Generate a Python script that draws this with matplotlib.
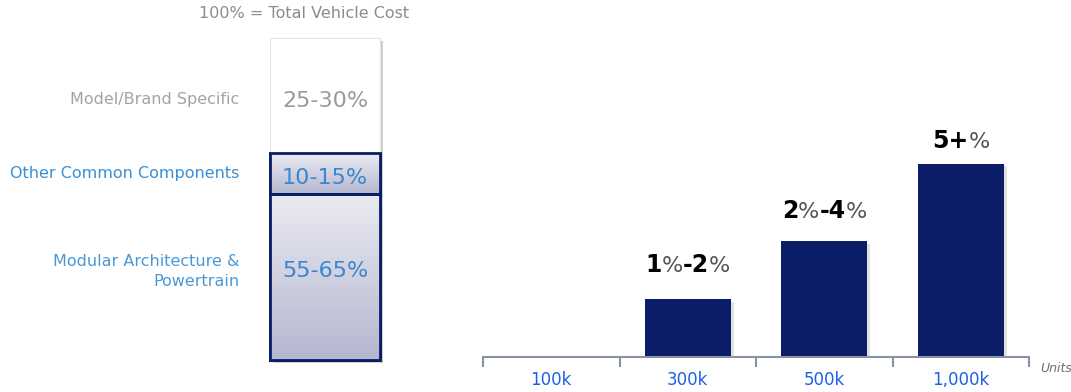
import re

import matplotlib.pyplot as plt
import matplotlib.patheffects as pe
import numpy as np
from matplotlib.colors import LinearSegmentedColormap
from matplotlib.offsetbox import AnnotationBbox, HPacker, TextArea

# --- data ---
segment_names = ["Modular Architecture &\nPowertrain", "Other Common Components", "Model/Brand Specific"]
segment_labels = ["55-65%", "10-15%", "25-30%"]
segment_share = [51.7, 12.5, 35.8]          # drawn share of the column, bottom -> top
segment_text_colors = ["#3a86cf", "#3a86cf", "#9a9a9a"]
segment_name_colors = ["#4a98d8", "#3a8fd4", "#a3a3a3"]
name_nudge = [4, 0, -3]                      # points, label fine-tuning
value_nudge = [4.5, -3, -3.6]

volumes = ["100k", "300k", "500k", "1,000k"]
savings = [0, 1.5, 3.0, 5.0]
savings_labels = ["", "1%-2%", "2%-4%", "5+%"]
label_gap = [0, 16, 13, 8]                   # points above bar top

W, H = 1071, 392
NAVY = "#0b1d66"
fig = plt.figure(figsize=(W / 100, H / 100), dpi=100)


def px_axes(x0, y0, x1, y1):
    return fig.add_axes([x0 / W, 1 - y1 / H, (x1 - x0) / W, (y1 - y0) / H])


def shadow(alpha=0.35):
    return [pe.SimplePatchShadow(offset=(2, -2), shadow_rgbFace="#888888", alpha=alpha), pe.Normal()]


# --- left: stacked cost column ---
ax1 = px_axes(270, 38, 380, 360)
ax1.set_xlim(0, 1)
ax1.set_ylim(0, sum(segment_share))
ax1.axis("off")

grad = np.linspace(0, 1, 256).reshape(-1, 1)
cmap = LinearSegmentedColormap.from_list("col", ["#b4b7d0", "#ebebf2"])
bottoms = np.concatenate([[0], np.cumsum(segment_share)[:-1]])
for i, (b, h) in enumerate(zip(bottoms, segment_share)):
    top_seg = i == len(segment_share) - 1
    bar = ax1.bar(0, h, bottom=b, width=1, align="edge",
                  color="white" if top_seg else "#c8cadc",
                  edgecolor="#e4e4e4" if top_seg else NAVY,
                  lw=0.8 if top_seg else 2.0, zorder=1, clip_on=False)[0]
    bar.set_path_effects(shadow(0.4))
    if not top_seg:
        img = ax1.imshow(grad, extent=(0, 1, b, b + h), aspect="auto", cmap=cmap,
                         origin="lower", zorder=2)
        img.set_clip_path(bar)
        ax1.bar(0, h, bottom=b, width=1, align="edge", color="none",
                edgecolor=NAVY, lw=2.0, zorder=3, clip_on=False)
    mid = b + h / 2
    ax1.annotate(segment_labels[i], (0.5, mid), xytext=(0, value_nudge[i]),
                 textcoords="offset points", ha="center", va="center",
                 fontsize=16, color=segment_text_colors[i], zorder=4)
    ax1.annotate(segment_names[i], (0, mid), xytext=(-22, name_nudge[i]),
                 textcoords="offset points", ha="right", va="center",
                 fontsize=11.5, color=segment_name_colors[i], linespacing=1.45,
                 annotation_clip=False)

fig.text(304 / W, 1 - 14 / H, "100% = Total Vehicle Cost", ha="center", va="center",
         fontsize=11.5, color="#8c8c8c")

# --- right: savings by volume ---
ax2 = px_axes(483, 125, 1029, 357)
x = np.arange(len(volumes))
ax2.set_xlim(-0.5, len(volumes) - 0.5)
ax2.set_ylim(0, 6)
bars = ax2.bar(x, savings, width=0.63, color=NAVY, zorder=2)
for bar in bars:
    bar.set_path_effects(shadow(0.25))

for xi, v, lab, gap in zip(x, savings, savings_labels, label_gap):
    if not lab:
        continue
    parts = []
    for tok in re.findall(r"[^%]+|%", lab):
        if tok == "%":
            parts.append(TextArea(tok, textprops=dict(fontsize=16, color="#555555")))
        else:
            parts.append(TextArea(tok, textprops=dict(fontsize=17, fontweight="bold", color="black")))
    pack = HPacker(children=parts, pad=0, sep=0, align="baseline")
    ab = AnnotationBbox(pack, (xi, v), xybox=(0, gap), xycoords="data",
                        boxcoords="offset points", box_alignment=(0.5, 0), frameon=False)
    ax2.add_artist(ab)

for s in ["top", "right", "left"]:
    ax2.spines[s].set_visible(False)
ax2.spines["bottom"].set_color("#8a90a6")
ax2.spines["bottom"].set_linewidth(1.5)
ax2.set_yticks([])
ax2.set_xticks(np.arange(-0.5, len(volumes), 1))
ax2.set_xticklabels([])
ax2.tick_params(axis="x", which="major", length=7, width=1.5, color="#8a90a6", direction="out")
ax2.set_xticks(x, minor=True)
ax2.set_xticklabels(volumes, minor=True)
ax2.tick_params(axis="x", which="minor", length=0, pad=10, labelsize=12, labelcolor="#1f5fe6")

fig.text(1040 / W, 1 - 369 / H, "Units", ha="left", va="center", fontsize=9,
         style="italic", color="#707070")

fig.savefig("out.png", dpi=100)
